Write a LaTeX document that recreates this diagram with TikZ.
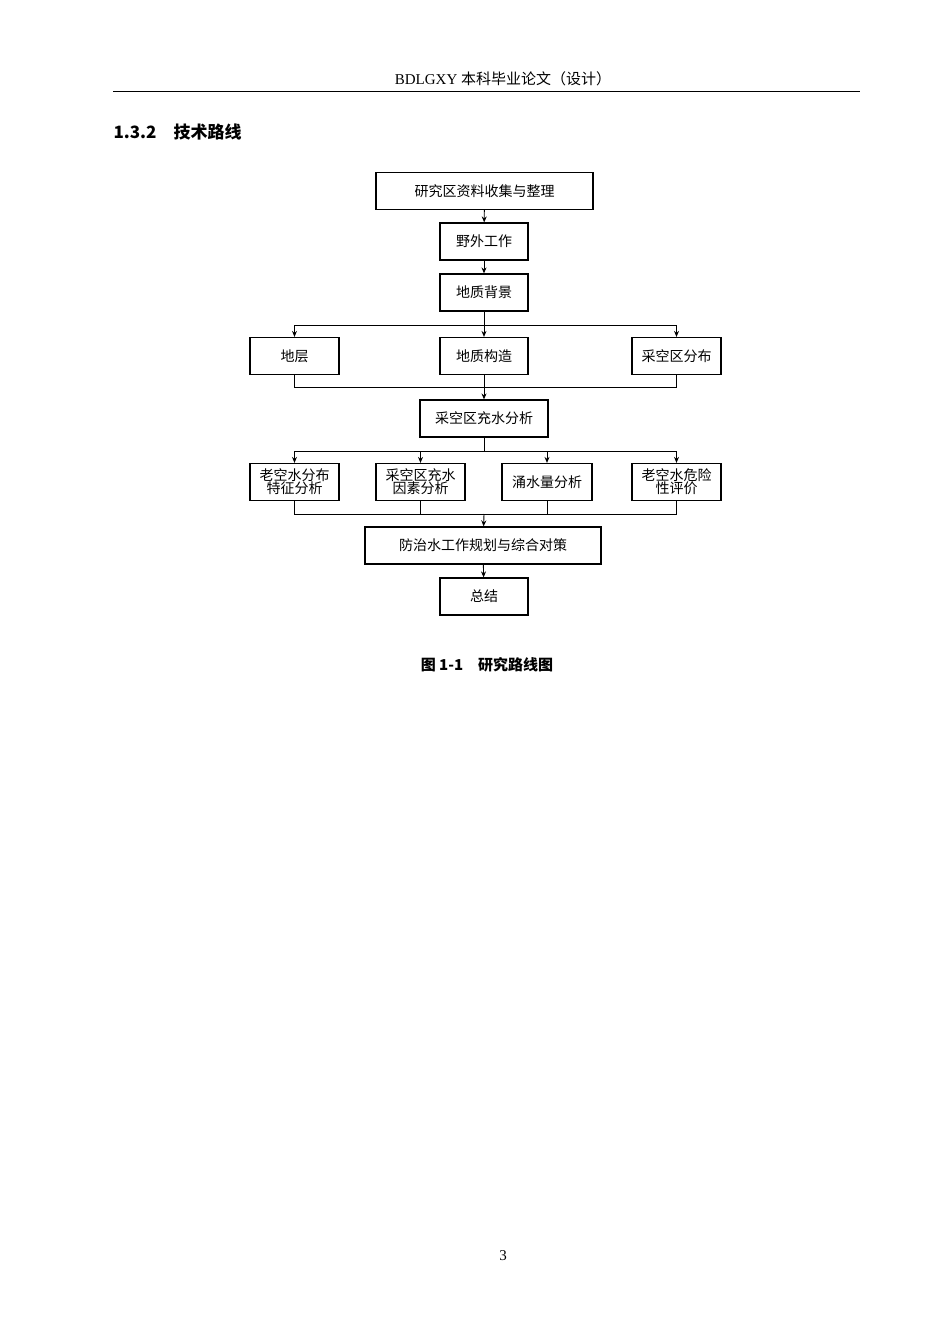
\documentclass[tikz,border=0pt]{standalone}
\usepackage{fontspec}
\setmainfont{Liberation Serif}
\newfontfamily\cjk{Noto Sans CJK SC}
\usetikzlibrary{arrows.meta}
\begin{document}
\begin{tikzpicture}[x=1pt,y=-1pt,
  bx/.style={draw,line width=1.2pt,minimum height=37pt,inner sep=1pt,font=\cjk\fontsize{14}{16}\selectfont,align=center},
  ar/.style={-{Stealth[length=6pt,width=5pt]},line width=0.9pt},
  ln/.style={line width=0.9pt}]
\useasboundingbox (0,0) rectangle (950,1344);
\node[font=\fontsize{15}{17}\selectfont] (hd) at (503,79) {BDLGXY {\cjk 本科毕业论文（设计）}};
\draw[line width=1pt] (113,91) -- (860,91);
\node[anchor=west,font=\cjk\bfseries\fontsize{17}{19}\selectfont] (sec) at (110,132) {1.3.2\quad 技术路线};
\node[bx,minimum width=217pt] (b1) at (484.5,191) {研究区资料收集与整理};
\node[bx,minimum width=88pt] (b2) at (484,241.5) {野外工作};
\node[bx,minimum width=88pt] (b3) at (484,292.5) {地质背景};
\node[bx,minimum width=89pt] (c1) at (294.5,356) {地层};
\node[bx,minimum width=88pt] (c2) at (484,356) {地质构造};
\node[bx,minimum width=89pt] (c3) at (676.5,356) {采空区分布};
\node[bx,minimum width=128pt] (d) at (484,418.5) {采空区充水分析};
\node[bx,minimum width=89pt] (e1) at (294.5,482) {老空水分布\\[-3pt]特征分析};
\node[bx,minimum width=89pt] (e2) at (420.5,482) {采空区充水\\[-3pt]因素分析};
\node[bx,minimum width=90pt] (e3) at (547,482) {涌水量分析};
\node[bx,minimum width=89pt] (e4) at (676.5,482) {老空水危险\\[-3pt]性评价};
\node[bx,minimum width=236pt] (f) at (483,545.5) {防治水工作规划与综合对策};
\node[bx,minimum width=88pt] (g) at (484,596.5) {总结};
\draw[ar] (b1) -- (b2);
\draw[ar] (b2) -- (b3);
\coordinate (s1) at (484,325);
\draw[ln] (b3) -- (s1);
\draw[ln] (c1.north |- s1) -- (c3.north |- s1);
\foreach \n in {c1,c2,c3} \draw[ar] (\n.north |- s1) -- (\n.north);
\coordinate (m1) at (484,387);
\draw[ln] (c1.south) -- (c1.south |- m1) -- (c3.south |- m1) -- (c3.south);
\draw[ln] (c2) -- (m1);
\draw[ar] (m1) -- (d);
\coordinate (s2) at (484,451);
\draw[ln] (d) -- (s2);
\draw[ln] (e1.north |- s2) -- (e4.north |- s2);
\foreach \n in {e1,e2,e3,e4} \draw[ar] (\n.north |- s2) -- (\n.north);
\coordinate (m2) at (484,514);
\draw[ln] (e1.south) -- (e1.south |- m2) -- (e4.south |- m2) -- (e4.south);
\draw[ln] (e2.south) -- (e2.south |- m2);
\draw[ln] (e3.south) -- (e3.south |- m2);
\draw[ar] (m2) -- (f);
\draw[ar] (f) -- (g);
\node[font=\cjk\bfseries\fontsize{15}{17}\selectfont] (cap) at (487,665) {图 1-1\quad 研究路线图};
\node[font=\fontsize{15}{17}\selectfont] (pg) at (503,1256) {3};
\end{tikzpicture}
\end{document}
